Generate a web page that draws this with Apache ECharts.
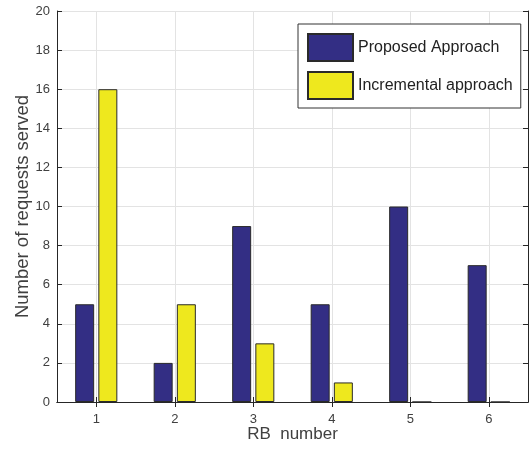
<!DOCTYPE html>
<html><head><meta charset="utf-8">
<script src="https://cdn.jsdelivr.net/npm/echarts@6/dist/echarts.min.js"></script>
<style>html,body{margin:0;padding:0;background:#fff}#c{width:529px;height:454px}</style>
</head><body><div id="c"></div>
<script>
const categories = ['1','2','3','4','5','6'];
const proposed = [5, 2, 9, 5, 10, 7];
const incremental = [16, 5, 3, 1, 0, 0];
const seriesNames = ['Proposed Approach', 'Incremental approach'];

const font = 'Liberation Sans, Arial, Helvetica, sans-serif';
const axisColor = '#262626';
const gridColor = '#e3e3e3';
const chart = echarts.init(document.getElementById('c'), null, {renderer: 'canvas'});
chart.setOption({
  animation: false,
  backgroundColor: '#fff',
  textStyle: {fontFamily: font},
  grid: {left: 57, right: 1, top: 11, bottom: 52, containLabel: false, outerBoundsMode: 'none'},
  legend: {
    orient: 'vertical', left: 298, top: 24,
    itemWidth: 45, itemHeight: 27, itemGap: 9,
    padding: [9, 8, 8, 9],
    borderColor: '#333', borderWidth: 1, backgroundColor: '#fff',
    textStyle: {fontSize: 16, color: '#222', fontFamily: font},
    icon: 'rect',
    data: seriesNames
  },
  xAxis: [{
    type: 'category', data: categories, position: 'bottom',
    name: 'RB  number', nameLocation: 'middle', nameGap: 24, nameMoveOverlap: false,
    nameTextStyle: {fontSize: 17, color: '#404040', fontFamily: font},
    axisLine: {lineStyle: {color: axisColor, width: 1}},
    axisTick: {show: true, inside: true, alignWithLabel: true, length: 5, lineStyle: {color: axisColor}},
    axisLabel: {fontSize: 13, color: '#404040', margin: 11, fontFamily: font},
    splitLine: {show: true, alignWithLabel: true, lineStyle: {color: gridColor, width: 1}}
  }, {
    type: 'category', data: categories, position: 'top',
    axisLine: {lineStyle: {color: axisColor, width: 1}},
    axisTick: {show: true, inside: true, alignWithLabel: true, length: 5, lineStyle: {color: axisColor}},
    axisLabel: {show: false}, splitLine: {show: false}
  }],
  yAxis: [{
    type: 'value', min: 0, max: 20, interval: 2, position: 'left',
    name: 'Number of requests served', nameLocation: 'middle', nameGap: 25, nameMoveOverlap: false,
    nameTextStyle: {fontSize: 18.5, color: '#404040', fontFamily: font},
    axisLine: {show: true, lineStyle: {color: axisColor, width: 1}},
    axisTick: {show: true, inside: true, length: 5, lineStyle: {color: axisColor}},
    axisLabel: {fontSize: 13, color: '#404040', margin: 7, fontFamily: font},
    splitLine: {show: true, lineStyle: {color: gridColor, width: 1}}
  }, {
    type: 'value', min: 0, max: 20, interval: 2, position: 'right',
    axisLine: {show: true, lineStyle: {color: axisColor, width: 1}},
    axisTick: {show: true, inside: true, length: 5, lineStyle: {color: axisColor}},
    axisLabel: {show: false}, splitLine: {show: false}
  }],
  series: [{
    name: seriesNames[0], type: 'bar', data: proposed,
    barWidth: 19, barGap: '22%',
    itemStyle: {color: '#332e84', borderColor: '#2a2a2a', borderWidth: 1}
  }, {
    name: seriesNames[1], type: 'bar', data: incremental,
    barWidth: 19, barGap: '22%',
    itemStyle: {color: '#eee81e', borderColor: '#2a2a2a', borderWidth: 1}
  }]
});
</script></body></html>
